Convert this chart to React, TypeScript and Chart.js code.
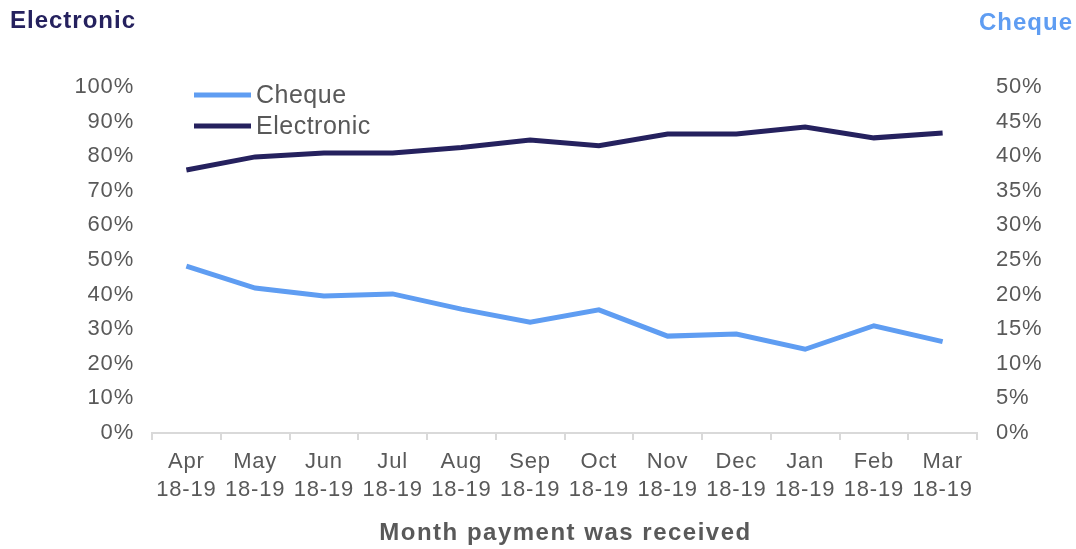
import React, { useEffect, useRef } from "react";
import { Chart, registerables } from "chart.js";

Chart.register(...registerables);

const months = ["Apr", "May", "Jun", "Jul", "Aug", "Sep", "Oct", "Nov", "Dec", "Jan", "Feb", "Mar"];
const yearLabel = "18-19";
const electronic = [76.0, 79.8, 80.9, 80.9, 82.5, 84.7, 83.0, 86.4, 86.4, 88.4, 85.3, 86.7];
const cheque = [24.1, 20.95, 19.8, 20.1, 17.9, 16.0, 17.8, 14.0, 14.3, 12.1, 15.5, 13.2];
const leftTitle = "Electronic";
const rightTitle = "Cheque";
const xTitle = "Month payment was received";

const ELEC = "#25215e";
const CHQ = "#5f9df2";
const GRAY = "#595959";
const FONT = "'Liberation Sans', Arial, sans-serif";

const spacingPlugin = {
  id: "spacing",
  beforeDraw(chart: any) {
    (chart.ctx as any).letterSpacing = "0.8px";
  },
};

const decorPlugin = {
  id: "decor",
  afterDraw(chart: any) {
    const ctx = chart.ctx;
    ctx.save();
    ctx.textBaseline = "alphabetic";
    ctx.font = `bold 24px ${FONT}`;
    (ctx as any).letterSpacing = "1px";
    ctx.fillStyle = ELEC;
    ctx.textAlign = "left";
    ctx.fillText(leftTitle, 10, 28);
    ctx.fillStyle = CHQ;
    ctx.textAlign = "right";
    ctx.fillText(rightTitle, 1073, 30);
    // x-axis title
    ctx.fillStyle = GRAY;
    ctx.textAlign = "center";
    ctx.textBaseline = "middle";
    (ctx as any).letterSpacing = "1.5px";
    ctx.font = `bold 24px ${FONT}`;
    const cx = (chart.chartArea.left + chart.chartArea.right) / 2;
    ctx.fillText(xTitle, cx + 1, 533);
    // legend
    (ctx as any).letterSpacing = "0.5px";
    ctx.font = `25px ${FONT}`;
    ctx.textAlign = "left";
    ctx.textBaseline = "middle";
    const items = [
      { label: "Cheque", color: CHQ, y: 95 },
      { label: "Electronic", color: ELEC, y: 126 },
    ];
    for (const it of items) {
      ctx.strokeStyle = it.color;
      ctx.lineWidth = 5;
      ctx.beginPath();
      ctx.moveTo(194, it.y);
      ctx.lineTo(251, it.y);
      ctx.stroke();
      ctx.fillStyle = GRAY;
      ctx.fillText(it.label, 256, it.y + 1);
    }
    ctx.restore();
    (ctx as any).letterSpacing = "0px";
  },
};

export default function App() {
  const ref = useRef<HTMLCanvasElement>(null);
  useEffect(() => {
    document.body.style.margin = "0";
    const chart = new Chart(ref.current!, {
      type: "line",
      data: {
        labels: months.map((m) => [m, yearLabel]),
        datasets: [
          {
            label: "Cheque",
            data: cheque,
            yAxisID: "y1",
            borderColor: CHQ,
            backgroundColor: CHQ,
            borderWidth: 5,
            pointRadius: 0,
            tension: 0,
          },
          {
            label: "Electronic",
            data: electronic,
            yAxisID: "y",
            borderColor: ELEC,
            backgroundColor: ELEC,
            borderWidth: 5,
            pointRadius: 0,
            tension: 0,
          },
        ],
      },
      options: {
        animation: false,
        responsive: true,
        maintainAspectRatio: false,
        layout: { padding: { top: 87, bottom: 0, left: 0, right: 0 } },
        plugins: { legend: { display: false }, tooltip: { enabled: false } },
        scales: {
          x: {
            offset: true,
            grid: {
              display: true,
              offset: true,
              drawOnChartArea: false,
              drawTicks: true,
              tickLength: 7,
              color: "#d9d9d9",
              lineWidth: 2,
            },
            border: { display: true, color: "#d9d9d9", width: 2 },
            ticks: {
              color: GRAY,
              font: { family: FONT, size: 22, lineHeight: 1.28 },
              padding: 8,
              maxRotation: 0,
              autoSkip: false,
            },
            afterFit: (s: any) => {
              s.height = 116;
            },
          },
          y: {
            position: "left",
            min: 0,
            max: 100,
            grid: { display: false, drawTicks: false },
            border: { display: false },
            ticks: {
              stepSize: 10,
              color: GRAY,
              padding: 18,
              font: { family: FONT, size: 22 },
              callback: (v: any) => `${v}%`,
            },
            afterFit: (s: any) => {
              s.width = 152;
            },
          },
          y1: {
            position: "right",
            min: 0,
            max: 50,
            grid: { display: false, drawTicks: false },
            border: { display: false },
            ticks: {
              stepSize: 5,
              color: GRAY,
              padding: 19,
              font: { family: FONT, size: 22 },
              callback: (v: any) => `${v}%`,
            },
            afterFit: (s: any) => {
              s.width = 99;
            },
          },
        },
      },
      plugins: [spacingPlugin, decorPlugin],
    });
    return () => chart.destroy();
  }, []);
  return (
    <div style={{ width: 1076, height: 549, position: "relative" }}>
      <canvas ref={ref} />
    </div>
  );
}
